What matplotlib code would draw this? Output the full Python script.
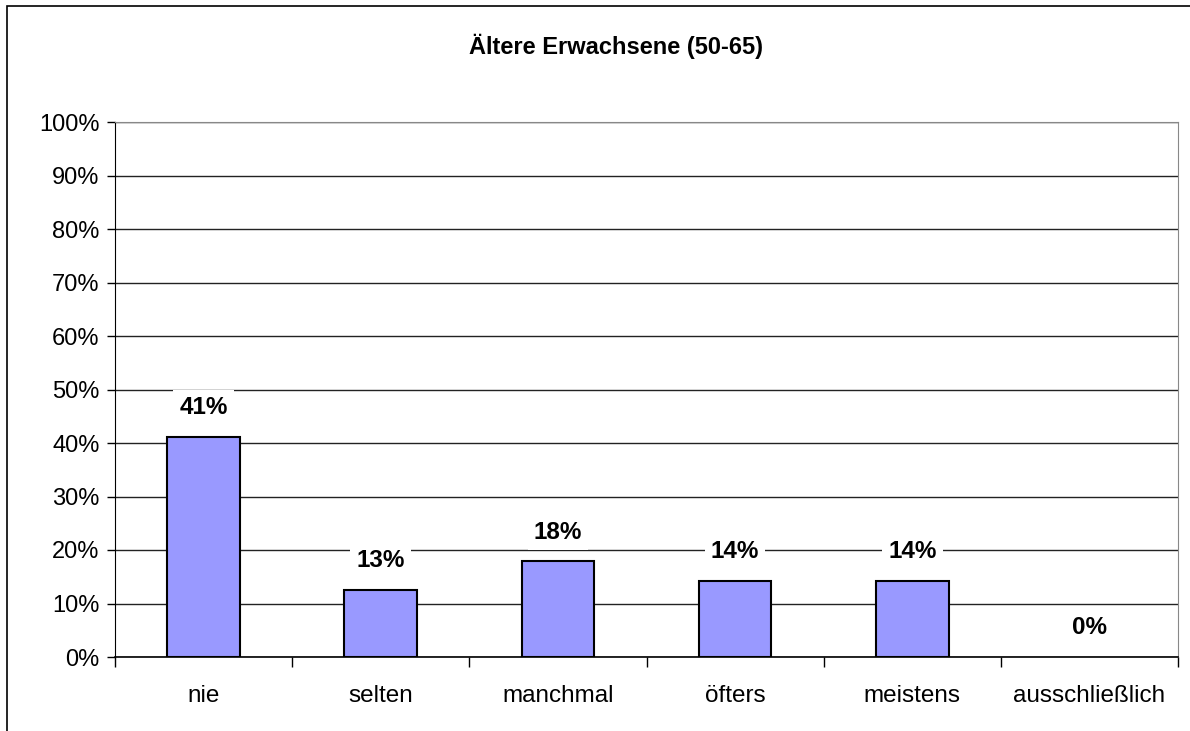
import numpy as np
import matplotlib.pyplot as plt
from matplotlib.patches import Rectangle

plt.rcParams['font.family'] = ['Liberation Sans', 'DejaVu Sans']

# Daten
kategorien = ['nie', 'selten', 'manchmal', 'öfters', 'meistens', 'ausschließlich']
anteile = [41.1, 12.6, 17.9, 14.2, 14.2, 0.0]
titel = 'Ältere Erwachsene (50-65)'

fig = plt.figure(figsize=(11.9, 7.31), dpi=100)
ax = fig.add_axes([115 / 1190, 1 - 657 / 731, 1063 / 1190, 535 / 731])

x = np.arange(len(kategorien))
breiten = [1.5 if v > 0 else 0 for v in anteile]
ax.bar(x, anteile, width=0.41, color='#9999FF', edgecolor='black', linewidth=breiten, zorder=3)

# Werte über den Balken, weißer Hintergrund deckt die Gitterlinien ab
for xi, v in zip(x, anteile):
    ax.annotate(f'{v:.0f}%', (xi, v), xytext=(0, 21), textcoords='offset points',
                ha='center', va='center', fontsize=17.5, fontweight='bold', zorder=4,
                bbox=dict(boxstyle='square,pad=0.25', fc='white', ec='none'))

ax.set_xlim(-0.5, len(kategorien) - 0.5)
ax.set_ylim(0, 100)
ax.set_yticks(np.arange(0, 101, 10))
ax.set_yticklabels([f'{t}%' for t in range(0, 101, 10)], fontsize=17)
ax.yaxis.grid(True, color='#222222', linewidth=1)
ax.set_axisbelow(True)

ax.set_xticks(x)
ax.set_xticklabels(kategorien, fontsize=17.5)
ax.set_xticks(np.arange(-0.5, len(kategorien)), minor=True)
ax.tick_params(axis='x', which='major', length=0, pad=20)
ax.tick_params(axis='x', which='minor', length=7, width=1, color='black')
ax.tick_params(axis='y', length=6, width=1, pad=5)

for s in ['top', 'right']:
    ax.spines[s].set_color('#888888')
ax.spines['left'].set_color('black')
ax.spines['bottom'].set_color('black')
ax.spines['bottom'].set_linewidth(1.2)

fig.text(0.518, 1 - 46 / 731, titel, ha='center', va='center', fontsize=17, fontweight='bold')

# Rahmen um das Diagramm
fig.patches.append(Rectangle((7 / 1190, -0.1), 1.2, 1 - 6 / 731 + 0.1, transform=fig.transFigure,
                             fill=False, ec='black', lw=1.2, clip_on=False))

fig.savefig('out.png', dpi=100)
